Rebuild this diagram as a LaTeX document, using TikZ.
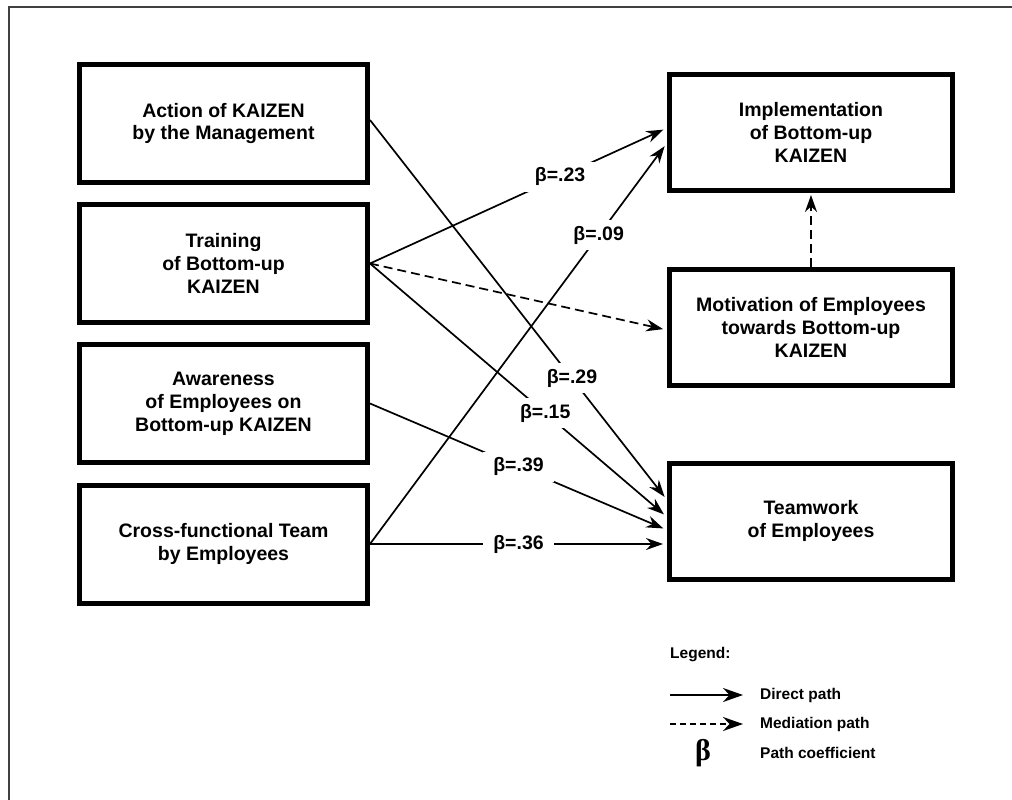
\documentclass[tikz,border=0pt]{standalone}
\usepackage{fontspec}
\setmainfont{Liberation Sans}
\newfontfamily\serifb{Liberation Serif}
\usetikzlibrary{arrows.meta}
\begin{document}
\begin{tikzpicture}[x=1pt,y=-1pt,
  box/.style={draw, line width=5pt, minimum width=288pt, minimum height=118pt, align=center,
    font=\bfseries\fontsize{19.5}{23}\selectfont, inner sep=0pt},
  rbox/.style={box, minimum width=283pt, minimum height=116pt},
  dpath/.style={line width=1.7pt, -{Stealth[length=17pt,width=12pt]}, shorten >=4pt},
  medpath/.style={dpath, dash pattern=on 9pt off 5pt},
  coef/.style={fill=white, inner xsep=10pt, inner ysep=6pt, font=\bfseries\fontsize{19.5}{23}\selectfont},
  legtext/.style={anchor=west, font=\bfseries\fontsize{15.5}{18}\selectfont, inner sep=0pt},
  legarrow/.style={line width=1.9pt, -{Stealth[length=20pt,width=14pt]}}
]
\useasboundingbox (0,0) rectangle (1012,800);
\draw[line width=1.5pt, black!75] (9,800) -- (9,7) -- (1012,7);

\node[box] (act) at (223.5,123.5) {Action of KAIZEN\\by the Management};
\node[box] (train) at (223.5,263.5) {Training\\of Bottom-up\\KAIZEN};
\node[box] (aware) at (223.5,403.5) {Awareness\\of Employees on\\Bottom-up KAIZEN};
\node[box] (cross) at (223.5,544) {Cross-functional Team\\by Employees};
\node[rbox] (impl) at (811,132.5) {Implementation\\of Bottom-up\\KAIZEN};
\node[rbox] (mot) at (811,327.5) {Motivation of Employees\\towards Bottom-up\\KAIZEN};
\node[rbox] (team) at (811,521) {Teamwork\\of Employees};

\draw[dpath] ([yshift=3.5pt]act.east) -- node[coef,pos=0.68]{β=.29} ([yshift=21pt]team.west);
\draw[dpath] (train.east) -- node[coef,pos=0.64]{β=.23} ([yshift=4.5pt]impl.west);
\draw[medpath] (train.east) -- ([yshift=-2.5pt]mot.west);
\draw[dpath] (train.east) -- node[coef,pos=0.59]{β=.15} ([yshift=4pt]team.west);
\draw[dpath] (aware.east) -- node[coef,pos=0.5]{β=.39} ([yshift=-9pt]team.west);
\draw[dpath] (cross.east) -- node[coef,pos=0.77]{β=.09} ([yshift=-10.5pt]impl.west);
\draw[dpath] (cross.east) -- node[coef,pos=0.5]{β=.36} ([yshift=-23pt]team.west);
\draw[medpath, shorten >=2pt] (mot.north) -- (impl.south);

\node[legtext] (leg) at (670,655) {Legend:};
\coordinate (d1) at (670,695);
\coordinate (d2) at (743,695);
\draw[legarrow] (d1) -- (d2);
\node[legtext] (dtext) at (760,695) {Direct path};
\coordinate (m1) at (670,724);
\coordinate (m2) at (743,724);
\draw[legarrow, dash pattern=on 6pt off 4pt] (m1) -- (m2);
\node[legtext] (mtext) at (760,724) {Mediation path};
\node[font=\serifb\bfseries\fontsize{30}{30}\selectfont, inner sep=0pt] (beta) at (703,753) {β};
\node[legtext] (ptext) at (760,753) {Path coefficient};
\end{tikzpicture}
\end{document}
